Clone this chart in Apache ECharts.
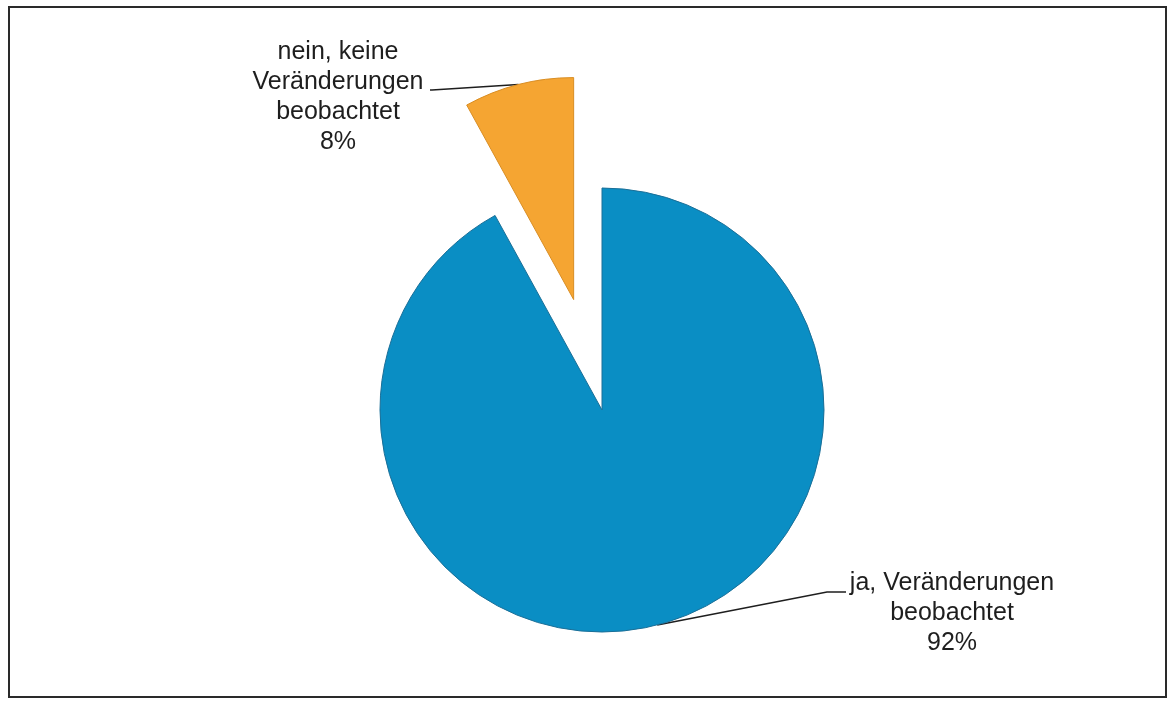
<!DOCTYPE html>
<html>
<head>
<meta charset="utf-8">
<script src="https://cdn.jsdelivr.net/npm/echarts@6/dist/echarts.min.js"></script>
<style>
  html, body { margin: 0; padding: 0; background: #ffffff; }
  #chart { width: 1168px; height: 701px; }
</style>
</head>
<body>
<div id="chart"></div>
<script>
// Answer categories and their shares (percent)
const categories = ['ja, Veränderungen\nbeobachtet', 'nein, keine\nVeränderungen\nbeobachtet'];
const shares = [92, 8];
const sliceColors = ['#0a8ec4', '#f5a532'];
const sliceBorders = ['#1a6f98', '#d98d22'];
const pulledOut = [false, true];

// Label placement (label centre, and where its leader line meets the text)
const labelAnchors = [
  { x: 952, y: 613, elbow: [827, 592], end: [846, 592] },
  { x: 338, y: 97, elbow: [432, 90], end: [430, 90] }
];

const CX = 602, CY = 410, R = 222, OFFSET = 114;
const total = shares.reduce((a, b) => a + b, 0);

// Mid angle of a slice, measured clockwise from 12 o'clock (radians)
function midAngle(idx) {
  let before = 0;
  for (let i = 0; i < idx; i++) before += shares[i];
  return (before + shares[idx] / 2) / total * Math.PI * 2;
}

// Centre of a slice's pie, shifted outwards along its mid angle if pulled out
function sliceCenter(idx) {
  const off = pulledOut[idx] ? OFFSET : 0;
  const a = midAngle(idx);
  return [CX + Math.sin(a) * off, CY - Math.cos(a) * off];
}

// Point on the outer arc at the slice's mid angle (start of the leader line)
function edgePoint(idx) {
  const c = sliceCenter(idx);
  const a = midAngle(idx);
  return [c[0] + Math.sin(a) * R, c[1] - Math.cos(a) * R];
}

const chart = echarts.init(document.getElementById('chart'), null, { renderer: 'canvas' });

// One pie layer per slice, so each slice can sit at its own centre
const series = categories.map((_, k) => ({
  type: 'pie',
  center: sliceCenter(k),
  radius: R,
  startAngle: 90,
  clockwise: true,
  avoidLabelOverlap: false,
  data: categories.map((name, i) => ({
    name: name,
    value: shares[i],
    itemStyle: i === k
      ? { color: sliceColors[i], borderColor: sliceBorders[i], borderWidth: 1 }
      : { color: 'rgba(0,0,0,0)', borderWidth: 0 },
    label: { show: i === k },
    labelLine: { show: i === k }
  })),
  label: {
    position: 'outside',
    formatter: p => p.name + '\n' + p.value + '%',
    fontFamily: 'Liberation Sans, Arial, sans-serif',
    fontSize: 25,
    lineHeight: 30,
    color: '#1e1e1e',
    align: 'center'
  },
  labelLine: {
    length: 10,
    length2: 10,
    lineStyle: { color: '#1e1e1e', width: 1.5 }
  },
  labelLayout: function (params) {
    const a = labelAnchors[params.dataIndex];
    return {
      x: a.x,
      y: a.y,
      align: 'center',
      verticalAlign: 'middle',
      labelLinePoints: [edgePoint(params.dataIndex), a.elbow, a.end]
    };
  },
  emphasis: { disabled: true },
  silent: true
}));

chart.setOption({
  backgroundColor: '#ffffff',
  animation: false,
  graphic: [{
    type: 'rect',
    shape: { x: 9, y: 7, width: 1157, height: 690 },
    style: { fill: 'none', stroke: '#2a2a2a', lineWidth: 2 },
    silent: true
  }],
  series: series
});
</script>
</body>
</html>
